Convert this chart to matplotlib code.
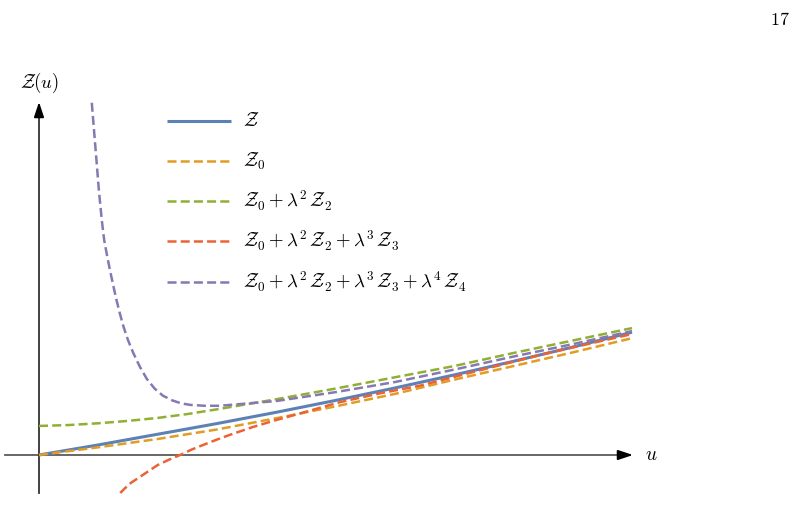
import matplotlib.pyplot as plt
import numpy as np

plt.rcParams['mathtext.fontset'] = 'cm'

# curve samples (u, Z)
u_z = [0, 1, 2, 3, 4, 5, 6, 7, 8, 9, 10]
z_full = [0, 0.17, 0.35, 0.53, 0.72, 0.92, 1.13, 1.35, 1.58, 1.82, 2.07]

u_z0 = [0, 1, 2, 3, 4, 5, 6, 7, 8, 9, 10]
z_0 = [0, 0.13, 0.27, 0.43, 0.62, 0.82, 1.03, 1.27, 1.50, 1.73, 1.97]

u_z2 = [0, 0.5, 1, 1.5, 2, 2.5, 3, 4, 5, 6, 7, 8, 9, 10]
z_2 = [0.49, 0.505, 0.535, 0.575, 0.625, 0.69, 0.77, 0.94, 1.12, 1.31, 1.50, 1.72, 1.93, 2.14]

u_z3 = [1.37, 1.45, 1.55, 1.7, 1.85, 2.0, 2.2, 2.38, 2.57, 2.77, 3.0, 3.22, 3.6,
        4.0, 4.4, 5.07, 5.75, 6.43, 7.44, 8.5, 10]
z_3 = [-0.64, -0.56, -0.47, -0.37, -0.27, -0.17, -0.075, 0.0, 0.09, 0.17, 0.26, 0.34, 0.47,
       0.59, 0.70, 0.89, 1.04, 1.17, 1.43, 1.70, 2.04]

u_z4 = [0.89, 0.93, 0.97, 1.01, 1.06, 1.10, 1.15, 1.20, 1.25, 1.30, 1.36, 1.42, 1.50,
        1.59, 1.70, 1.82, 1.95, 2.09, 2.25, 2.40, 2.55, 2.80, 3.05,
        4, 5, 6, 7, 8, 9, 10]
z_4 = [5.94, 5.45, 4.96, 4.46, 3.95, 3.62, 3.35, 3.10, 2.87, 2.64, 2.40, 2.18, 1.94,
       1.72, 1.49, 1.28, 1.12, 1.00, 0.92, 0.87, 0.845, 0.83, 0.83,
       0.91, 1.06, 1.23, 1.44, 1.66, 1.87, 2.09]

labels = [r'$\mathcal{Z}$',
          r'$\mathcal{Z}_0$',
          r'$\mathcal{Z}_0+\lambda^2\,\mathcal{Z}_2$',
          r'$\mathcal{Z}_0+\lambda^2\,\mathcal{Z}_2+\lambda^3\,\mathcal{Z}_3$',
          r'$\mathcal{Z}_0+\lambda^2\,\mathcal{Z}_2+\lambda^3\,\mathcal{Z}_3+\lambda^4\,\mathcal{Z}_4$']
colors = ['#5E81B5', '#E19C24', '#8FB032', '#EB6235', '#8778B3']

# pixel layout: origin at (39, 455), 59.3 px per unit
W, H = 805, 527
X0, Y0, S = 39, 455, 59.3


def px(x, y):
    return (x - X0) / S, (Y0 - y) / S


fig = plt.figure(figsize=(W / 100, H / 100), dpi=100)
ax = fig.add_axes([0, 0, 1, 1])
ax.set_xlim(px(0, 0)[0], px(W, 0)[0])
ax.set_ylim(px(0, H)[1], px(0, 0)[1])
ax.axis('off')

# axes: grey lines with black arrow heads
axc = '#5a5a5a'
hx = [px(5, 455), px(622, 455)]
vy = [px(39, 493), px(39, 112)]
ax.plot([hx[0][0], hx[1][0]], [hx[0][1], hx[1][1]], color=axc, lw=1.3)
ax.plot([vy[0][0], vy[1][0]], [vy[0][1], vy[1][1]], color='#333333', lw=1.3)
head = dict(arrowstyle='-|>,head_length=0.9,head_width=0.3',
            color='black', lw=1.3, shrinkA=0, shrinkB=0)
ax.annotate('', xy=px(633, 455), xytext=px(620, 455), arrowprops=head)
ax.annotate('', xy=px(39, 102), xytext=px(39, 115), arrowprops=head)

lw = 1.8
dash = (0, (6.5 / lw, 3.0 / lw))
series = [(u_z, z_full, '-'), (u_z0, z_0, dash), (u_z2, z_2, dash),
          (u_z3, z_3, dash), (u_z4, z_4, dash)]
order = [1, 3, 0, 4, 2]
for i in order:
    u, z, ls = series[i]
    ax.plot(u, z, color=colors[i], lw=2.2 if i == 0 else lw, linestyle=ls,
            solid_capstyle='butt', dash_capstyle='butt', zorder=3 + i)

# legend, drawn by hand
rows = [121, 161, 201, 241, 282]
for i, yy in enumerate(rows):
    (x1, y1), (x2, _) = px(167, yy), px(231, yy)
    ax.plot([x1, x2], [y1, y1], color=colors[i], lw=2.2 if i == 0 else lw,
            linestyle=series[i][2], solid_capstyle='butt', dash_capstyle='butt')
    tx, ty = px(243, yy)
    ax.text(tx, ty, labels[i], fontsize=13.5, va='center', ha='left')

ax.text(*px(39, 83), r'$\mathcal{Z}(u)$', fontsize=13.5, ha='center', va='center')
ax.text(*px(645, 455), r'$u$', fontsize=14, ha='left', va='center')
ax.text(*px(790, 20), r'$17$', fontsize=13, ha='right', va='center')

fig.savefig('out.png', dpi=100)
